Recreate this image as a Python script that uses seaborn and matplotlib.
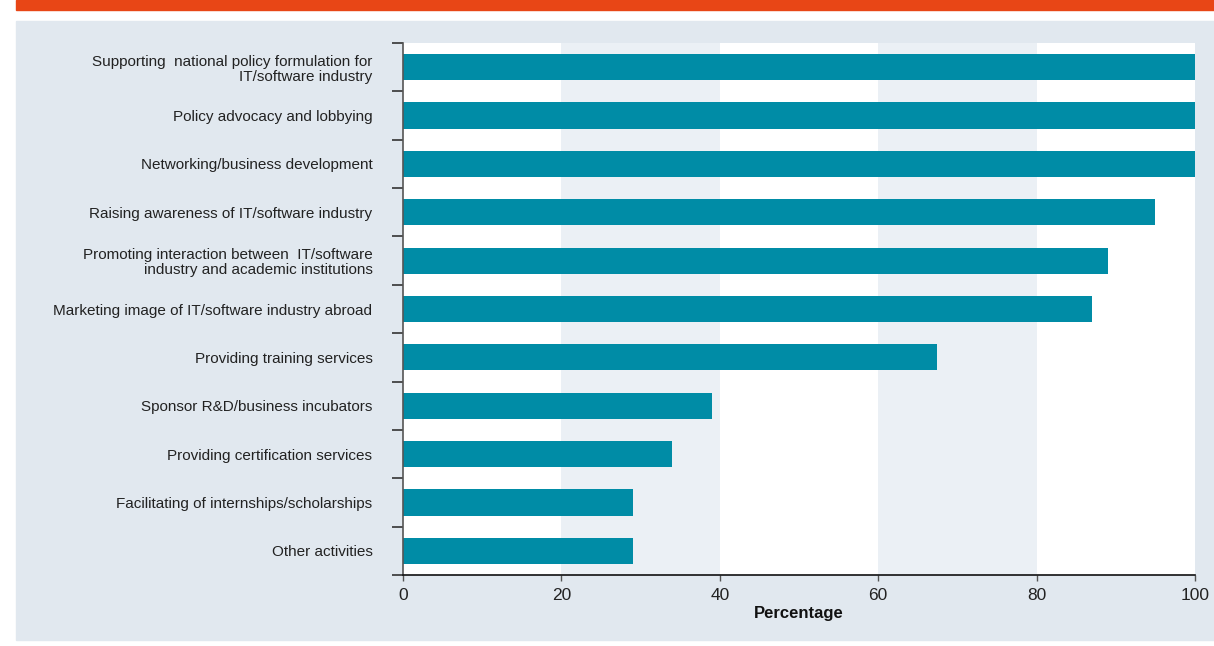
import matplotlib
matplotlib.use('Agg')
import pandas as pd
import numpy as np
import matplotlib.pyplot as plt
import seaborn as sns
from matplotlib.patches import Rectangle
from matplotlib import font_manager

# Chart data
activities = [
    'Supporting  national policy formulation for\nIT/software industry',
    'Policy advocacy and lobbying',
    'Networking/business development',
    'Raising awareness of IT/software industry',
    'Promoting interaction between  IT/software\nindustry and academic institutions',
    'Marketing image of IT/software industry abroad',
    'Providing training services',
    'Sponsor R&D/business incubators',
    'Providing certification services',
    'Facilitating of internships/scholarships',
    'Other activities',
]
percentages = [100, 100, 100, 95, 89, 87, 67.4, 39, 34, 29, 29]
x_ticks = [0, 20, 40, 60, 80, 100]

df = pd.DataFrame({'activity': activities, 'pct': percentages})

sns.set_style('white')
names = {f.name for f in font_manager.fontManager.ttflist}
if 'Liberation Sans Narrow' in names:
    plt.rcParams['font.family'] = ['Liberation Sans Narrow', 'DejaVu Sans']
    fs = 12.5
else:
    plt.rcParams['font.family'] = ['Liberation Sans', 'DejaVu Sans']
    fs = 11

fig = plt.figure(figsize=(12.14, 6.46), dpi=100)
W, H = 1214, 646

# orange strip on top and grey panel behind the chart
fig.patches.append(Rectangle((16 / W, 1 - 10 / H), 1, 10 / H, transform=fig.transFigure,
                             color='#e84616', zorder=-5))
fig.patches.append(Rectangle((16 / W, 1 - 640 / H), 1, (640 - 21) / H, transform=fig.transFigure,
                             color='#e1e8ef', zorder=-5))

ax = fig.add_axes([403 / W, 1 - 575 / H, (1195 - 403) / W, (575 - 43) / H])
ax.set_facecolor('white')

# alternating bands
for lo in [20, 60]:
    ax.axvspan(lo, lo + 20, color='#ebf0f5', zorder=0, lw=0)

sns.barplot(data=df, y='activity', x='pct', orient='h', color='#008ca6',
            saturation=1, width=0.54, linewidth=0, ax=ax, zorder=2)

n = len(activities)
ax.set_xlim(0, 100)
ax.set_ylim(n - 0.5, -0.5)

ax.set_xticks(x_ticks)
ax.set_xticklabels([str(t) for t in x_ticks], fontsize=12.5, color='#222222')
ax.tick_params(axis='x', length=4, width=1, color='#555555', pad=5, direction='out', bottom=True)

ax.set_yticks(range(n))
ax.set_yticklabels(activities, fontsize=fs, color='#222222', linespacing=1.1)
ax.tick_params(axis='y', which='major', length=0, pad=22)
ax.set_yticks(np.arange(-0.5, n, 1), minor=True)
ax.tick_params(axis='y', which='minor', length=8, width=1.2, color='#333333', left=True)

ax.set_ylabel('')
ax.set_xlabel('Percentage', fontsize=12, fontweight='bold', color='#111111')
ax.xaxis.set_label_coords(0.5, -0.058)

for side in ['top', 'right']:
    ax.spines[side].set_visible(False)
ax.spines['left'].set_color('#555555')
ax.spines['left'].set_linewidth(1.2)
ax.spines['bottom'].set_color('#111111')
ax.spines['bottom'].set_linewidth(1.2)

fig.savefig('out.png', dpi=100)
